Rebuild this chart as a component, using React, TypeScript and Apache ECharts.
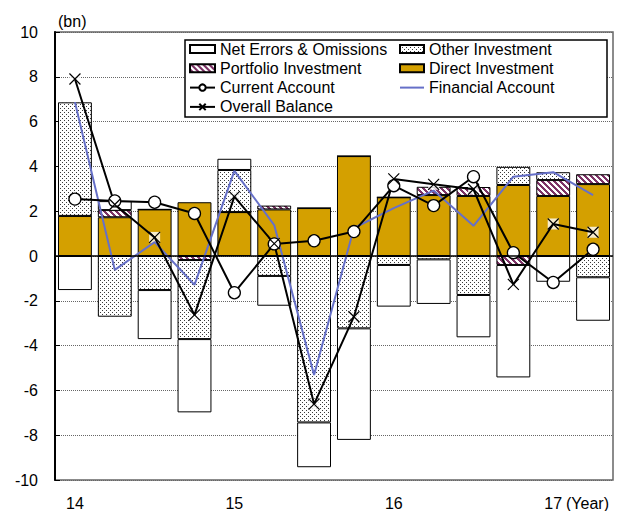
import React, { useEffect, useRef } from 'react';
import * as echarts from 'echarts';

const quarters = ['14Q1', '14Q2', '14Q3', '14Q4', '15Q1', '15Q2', '15Q3', '15Q4', '16Q1', '16Q2', '16Q3', '16Q4', '17Q1', '17Q2'];
const yearTicks: Record<string, string> = { '14Q1': '14', '15Q1': '15', '16Q1': '16', '17Q1': '17' };

const directInvestment = [1.79, 1.73, 2.08, 2.40, 1.96, 2.08, 2.14, 4.46, 2.62, 2.72, 2.68, 3.17, 2.68, 3.21];
const portfolioInvestment = [0, 0.32, 0, -0.18, 0, 0.17, 0, 0, 0, 0.37, 0.40, -0.40, 0.71, 0.44];
const otherInvestment = [5.07, -2.71, -1.52, -3.53, 1.88, -0.89, -7.43, -3.23, -0.40, -0.15, -1.74, 0.81, 0.35, -0.95];
const netErrors = [-1.52, 0.40, -2.19, -3.27, 0.50, -1.33, -2.00, -4.98, -1.86, -1.99, -1.89, -5.02, -1.15, -1.94];
const currentAccount = [2.54, 2.46, 2.40, 1.90, -1.64, 0.54, 0.68, 1.09, 3.14, 2.25, 3.54, 0.15, -1.18, 0.30];
const financialAccount = [6.87, -0.62, 0.62, -1.29, 3.80, 1.38, -5.31, 1.25, 2.14, 2.92, 1.35, 3.54, 3.74, 2.72];
const overallBalance = [7.90, 2.30, 0.83, -2.63, 2.65, 0.55, -6.61, -2.71, 3.44, 3.20, 2.98, -1.27, 1.43, 1.06];

const FONT = '"Liberation Sans", Arial, sans-serif';
const GOLD = '#D4A000';
const PURPLE = '#7D3366';
const BLUE = '#6670C8';

function dotPattern() {
  const c = document.createElement('canvas');
  c.width = 4; c.height = 4;
  const ctx = c.getContext('2d')!;
  ctx.fillStyle = '#fff';
  ctx.fillRect(0, 0, 4, 4);
  ctx.fillStyle = '#3a3a3a';
  ctx.fillRect(0, 0, 1, 1);
  ctx.fillRect(2, 2, 1, 1);
  return { image: c.toDataURL(), repeat: 'repeat', imageWidth: 4, imageHeight: 4 } as any;
}

function stripePattern() {
  const n = 6;
  const c = document.createElement('canvas');
  c.width = n; c.height = n;
  const ctx = c.getContext('2d')!;
  ctx.fillStyle = '#fff';
  ctx.fillRect(0, 0, n, n);
  ctx.fillStyle = PURPLE;
  for (let x = 0; x < n; x++) {
    for (let y = 0; y < n; y++) {
      if ((((x - y) % n) + n) % n < 3) ctx.fillRect(x, y, 1, 1);
    }
  }
  return { image: c.toDataURL(), repeat: 'repeat', imageWidth: n, imageHeight: n } as any;
}

export default function App() {
  const ref = useRef<HTMLDivElement>(null);
  useEffect(() => {
    if (!ref.current) return;
    const chart = echarts.init(ref.current, null, { renderer: 'svg' });
    const barBase = {
      type: 'bar',
      stack: 'bop',
      barWidth: '85%',
      itemStyle: { borderColor: '#000', borderWidth: 1 },
    };
    const legendText = { fontSize: 16, fontFamily: FONT, color: '#000', lineHeight: 16 };
    const option: any = {
      animation: false,
      backgroundColor: '#fff',
      grid: { left: 55, right: 6, top: 32, bottom: 31, show: true, borderColor: '#666', borderWidth: 1.5, backgroundColor: 'transparent' },
      legend: [
        {
          left: 189, top: 41, padding: 0, orient: 'vertical', itemWidth: 25, itemHeight: 8, itemGap: 3.3,
          selectedMode: false, textStyle: legendText,
          data: [
            { name: 'Net Errors & Omissions', icon: 'rect' },
            { name: 'Portfolio Investment', icon: 'rect' },
            'Current Account',
            'Overall Balance',
          ],
        },
        {
          left: 399, top: 41, padding: 0, orient: 'vertical', itemWidth: 24, itemHeight: 8, itemGap: 3.3,
          selectedMode: false, textStyle: legendText,
          data: [
            { name: 'Other Investment', icon: 'rect' },
            { name: 'Direct Investment', icon: 'rect' },
            { name: 'Financial Account', icon: 'path://M0,3H24V5H0Z' },
          ],
        },
      ],
      graphic: [
        { type: 'rect', z: 3, shape: { x: 185, y: 40, width: 422, height: 77 }, style: { fill: '#fff', stroke: '#000', lineWidth: 1.5 } },
        { type: 'text', left: 58, top: 13, style: { text: '(bn)', font: `16px ${FONT}`, fill: '#000' } },
        { type: 'text', left: 566, top: 495, style: { text: '(Year)', font: `16px ${FONT}`, fill: '#000' } },
      ],
      xAxis: {
        type: 'category',
        data: quarters,
        boundaryGap: true,
        axisLine: { show: false },
        axisTick: { show: false },
        splitLine: { show: false },
        axisLabel: {
          interval: 0, margin: 15, fontSize: 16, fontFamily: FONT, color: '#000',
          formatter: (v: string) => yearTicks[v] || '',
        },
      },
      yAxis: {
        type: 'value', min: -10, max: 10, interval: 2,
        axisLine: { show: true, lineStyle: { color: '#000', width: 2 } },
        axisTick: { show: true, inside: true, length: 5, lineStyle: { color: '#000' } },
        splitLine: { show: true, lineStyle: { color: '#666', type: 'dotted', width: 1 } },
        axisLabel: { margin: 17, fontSize: 16, fontFamily: FONT, color: '#000' },
      },
      series: [
        { ...barBase, name: 'Direct Investment', data: directInvestment, itemStyle: { ...barBase.itemStyle, color: GOLD } },
        { ...barBase, name: 'Portfolio Investment', data: portfolioInvestment, itemStyle: { ...barBase.itemStyle, color: stripePattern() } },
        { ...barBase, name: 'Other Investment', data: otherInvestment, itemStyle: { ...barBase.itemStyle, color: dotPattern() } },
        {
          ...barBase, name: 'Net Errors & Omissions', data: netErrors, itemStyle: { ...barBase.itemStyle, color: '#fff' },
          markLine: { silent: true, symbol: 'none', label: { show: false }, lineStyle: { color: '#000', type: 'solid', width: 1.5 }, data: [{ yAxis: 0 }] },
        },
        {
          type: 'line', name: 'Financial Account', data: financialAccount, symbol: 'none',
          lineStyle: { color: BLUE, width: 2 }, itemStyle: { color: BLUE },
        },
        {
          type: 'line', name: 'Current Account', data: currentAccount, symbol: 'circle', symbolSize: 12,
          lineStyle: { color: '#000', width: 2 }, itemStyle: { color: '#fff', borderColor: '#000', borderWidth: 1.3 },
        },
        {
          type: 'scatter', name: 'OB background', data: overallBalance, symbol: 'rect', symbolSize: 11,
          itemStyle: { color: '#fff', borderWidth: 0 },
        },
        {
          type: 'line', name: 'Overall Balance', data: overallBalance, symbol: 'path://M0,0L10,10M10,0L0,10', symbolSize: 11,
          lineStyle: { color: '#000', width: 2 }, itemStyle: { color: '#fff', borderColor: '#000', borderWidth: 1.2 },
        },
      ],
    };
    chart.setOption(option);
    return () => chart.dispose();
  }, []);
  return <div ref={ref} style={{ position: 'fixed', left: 0, top: 0, width: 619, height: 511 }} />;
}
